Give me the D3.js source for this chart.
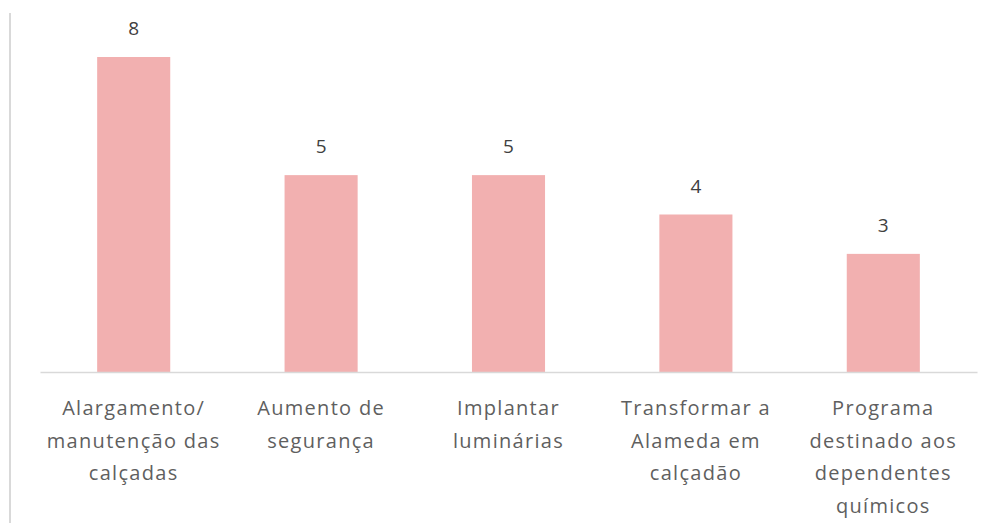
<!DOCTYPE html>
<html>
<head>
<meta charset="utf-8">
<script src="https://cdn.jsdelivr.net/npm/d3@7"></script>
<style>
  body { margin: 0; background: #fff; }
  svg { display: block; font-family: "Open Sans", sans-serif; }
</style>
</head>
<body>
<div id="chart"></div>
<script>
const W = 991, H = 523;

// data
const categories = [
  "Alargamento/ manutenção das calçadas",
  "Aumento de segurança",
  "Implantar luminárias",
  "Transformar a Alameda em calçadão",
  "Programa destinado aos dependentes químicos"
];
const labelLines = [
  ["Alargamento/", "manutenção das", "calçadas"],
  ["Aumento de", "segurança"],
  ["Implantar", "luminárias"],
  ["Transformar a", "Alameda em", "calçadão"],
  ["Programa", "destinado aos", "dependentes", "químicos"]
];
const values = [8, 5, 5, 4, 3];

const svg = d3.select("#chart").append("svg")
    .attr("width", W)
    .attr("height", H);

// outer frame edge on the left
svg.append("line")
    .attr("x1", 10).attr("x2", 10)
    .attr("y1", 13).attr("y2", H)
    .attr("stroke", "#d9d9d9")
    .attr("stroke-width", 2);

var x = d3.scaleBand()
    .domain(categories)
    .range([40, 977])
    .paddingInner(0.61)
    .paddingOuter(0.305);

var y = d3.scaleLinear()
    .domain([0, 8])
    .range([372, 57]);

// bars
svg.selectAll(".bar")
    .data(values)
    .enter()
    .append("rect")
    .attr("class", "bar")
    .attr("x", (d, i) => x(categories[i]))
    .attr("y", d => y(d))
    .attr("width", x.bandwidth())
    .attr("height", d => y(0) - y(d))
    .attr("fill", "#f2b0b0");

// value labels
svg.selectAll(".val")
    .data(values)
    .enter()
    .append("text")
    .attr("class", "val")
    .attr("x", (d, i) => x(categories[i]) + x.bandwidth() / 2)
    .attr("y", d => y(d) - 22)
    .attr("text-anchor", "middle")
    .attr("font-size", 19)
    .attr("fill", "#404040")
    .text(d => d);

// x axis (line only, labels wrapped by hand)
const xAxis = svg.append("g")
    .attr("transform", `translate(0,${y(0)})`)
    .call(d3.axisBottom(x).tickSize(0).tickFormat(""));
xAxis.select(".domain").attr("stroke", "#d9d9d9").attr("stroke-width", 1.5);

const lab = svg.selectAll(".xlab")
    .data(categories)
    .enter()
    .append("text")
    .attr("class", "xlab")
    .attr("text-anchor", "middle")
    .attr("font-size", 20)
    .attr("letter-spacing", 1.3)
    .attr("fill", "#5f5f5f");

lab.each(function(d, i) {
  const t = d3.select(this);
  labelLines[i].forEach((ln, j) => {
    t.append("tspan")
      .attr("x", x(d) + x.bandwidth() / 2)
      .attr("y", 415 + j * 32.5)
      .text(ln);
  });
});
</script>
</body>
</html>
